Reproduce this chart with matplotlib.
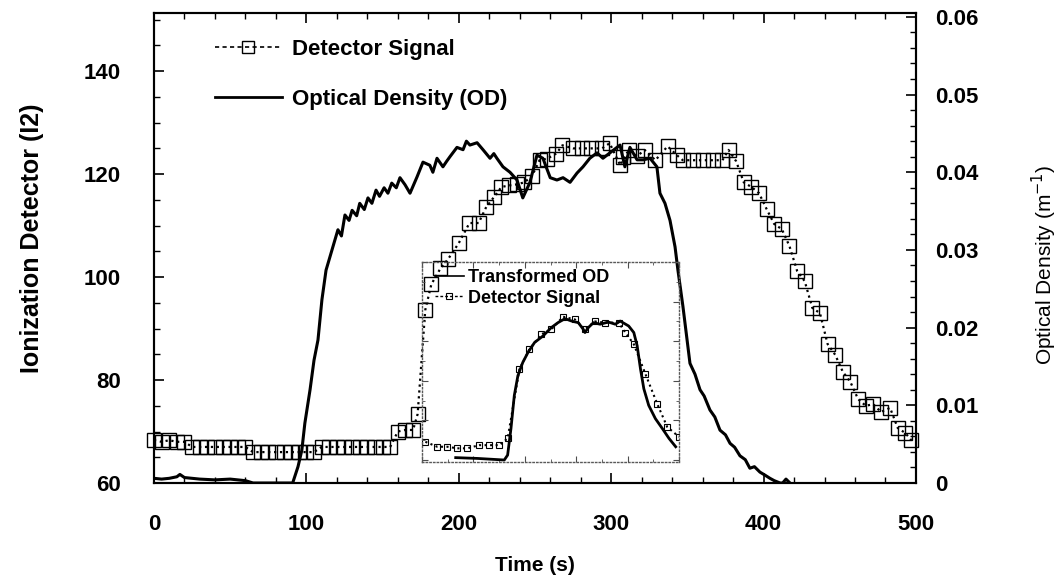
from matplotlib import pyplot as plt
from matplotlib.lines import Line2D
from matplotlib.ticker import MultipleLocator

plt.rcParams['font.family'] = ['Liberation Sans', 'DejaVu Sans']

# detector signal (left axis)
det_t = [0, 5, 10, 15, 20, 25, 30, 35, 40, 45, 50, 55, 60, 65, 70, 75, 80, 85, 90, 95,
         100, 105, 110, 115, 120, 125, 130, 135, 140, 145, 150, 155, 160, 165, 170, 173,
         178, 182, 188, 193, 200, 207, 213, 218, 223, 228, 233, 238, 243, 248, 253, 258,
         264, 268, 275, 281, 287, 294, 299, 306, 308, 312, 317, 322, 329, 337, 343, 347,
         354, 360, 367, 373, 377, 382, 387, 392, 397, 402, 407, 412, 417, 422, 427, 432,
         437, 442, 447, 452, 457, 462, 467, 472, 477, 483, 488, 493, 497]
det_v = [68.3, 68, 68.3, 68, 68, 67, 67, 67, 67, 67, 67, 67, 67, 66, 66, 66, 66, 66, 66, 66,
         66, 66, 67, 67, 67, 67, 67, 67, 67, 67, 67, 67, 70, 70.3, 70.3, 73.4,
         93.6, 98.6, 101.7, 103.5, 106.6, 110.5, 110.5, 113.6, 115.5, 117.5, 117.8, 118, 118.4, 119.6, 122.7, 123,
         124, 125.6, 125, 125, 125, 125, 126, 121.7, 123.3, 124.7, 123.5, 124.7, 122.7, 125.4, 123.7, 122.7,
         122.7, 122.7, 122.7, 122.7, 124.7, 122.5, 118.4, 117.5, 116.3, 113.2, 110.3, 109.3, 106, 101.2, 99.2, 94,
         93, 87, 84.9, 81.6, 79.6, 76.3, 75, 75.3, 73.8, 74.6, 70.7, 69.7, 68.3]

# optical density (right axis)
od_t = [0, 5, 10, 15, 17, 20, 25, 30, 40, 50, 60, 65, 91, 94.5, 97, 99, 102.4, 105, 107.6, 110.2,
        112.9, 116.8, 120.7, 123, 125.3, 128, 130, 133, 135, 138, 140.4, 143, 145.7, 148, 151, 153.5, 156,
        159, 161.4, 164.7, 168, 172.6, 176.5, 181, 183, 185.7, 189.6, 192, 194.2, 198.8, 202.8, 205,
        207.3, 212, 215.9, 220.5, 223, 225, 229, 233.6, 238.2, 242, 246.7, 251.3, 255.2, 260, 264.4,
        268.4, 273, 277.6, 281.5, 286, 290.7, 294.6, 299.2, 303.8, 305.8, 309, 312.3, 317, 321, 325.5,
        330, 332, 335.3, 338.6, 341.9, 343.8, 347.1, 351.7, 355, 358.3, 361, 364.8, 368, 371.4, 375, 378,
        381, 384.5, 388, 391, 394, 397.6, 401, 404.2, 407, 410.8, 412.5, 414.7, 417.3]
od_v = [0.0006, 0.0005, 0.0006, 0.0008, 0.0011, 0.0007, 0.0006, 0.0005, 0.0004, 0.0005, 0.0003, 0.0, 0.0,
        0.0021, 0.0042, 0.0077, 0.012, 0.0158, 0.0184, 0.0236,
        0.0274, 0.030, 0.0326, 0.0318, 0.0345, 0.0338, 0.0351, 0.0344, 0.036, 0.0352, 0.0367, 0.0360,
        0.0377, 0.0369, 0.038, 0.0373, 0.0386,
        0.0380, 0.0393, 0.0384, 0.0373, 0.0394, 0.0413, 0.0409, 0.0400, 0.0418, 0.0407, 0.0414, 0.042,
        0.0432, 0.0429, 0.0440, 0.0435, 0.0438, 0.0429, 0.0418, 0.0424, 0.0418, 0.0407, 0.040, 0.039,
        0.0367, 0.0387, 0.0422, 0.0418, 0.0393, 0.039,
        0.0393, 0.0387, 0.0399, 0.0407, 0.0418, 0.0425, 0.0418, 0.0425, 0.0432, 0.0435, 0.0407, 0.0432,
        0.0416, 0.0416, 0.0418,
        0.0407, 0.0373, 0.036, 0.0338, 0.0304, 0.0274, 0.0227, 0.0154, 0.0140, 0.012, 0.0112, 0.0094,
        0.0085, 0.0068, 0.0062, 0.0051,
        0.0046, 0.0035, 0.0030, 0.0019, 0.0021, 0.0014, 0.0010, 0.0006, 0.0003, 0.0, 0.0, 0.0005, 0.0]

# inset: transformed OD and detector signal (normalised units)
ins_od_x = [0.131, 0.216, 0.320, 0.333, 0.346, 0.359, 0.373, 0.392, 0.412, 0.438, 0.471, 0.503, 0.529,
            0.556, 0.582, 0.608, 0.627, 0.634, 0.647, 0.667, 0.693, 0.725, 0.752, 0.771, 0.804, 0.824,
            0.837, 0.850, 0.863, 0.882, 0.908, 0.935, 0.961, 0.987]
ins_od_y = [0.012, 0.008, 0.0, 0.025, 0.159, 0.326, 0.426, 0.493, 0.543, 0.594, 0.627, 0.669, 0.694,
            0.714, 0.702, 0.694, 0.661, 0.644, 0.669, 0.694, 0.686, 0.697, 0.686, 0.702, 0.677, 0.644,
            0.577, 0.460, 0.360, 0.276, 0.209, 0.159, 0.109, 0.067]
ins_det_x = [0.013, 0.059, 0.098, 0.137, 0.176, 0.222, 0.261, 0.301, 0.333, 0.379, 0.418, 0.464,
             0.503, 0.549, 0.595, 0.634, 0.673, 0.712, 0.765, 0.791, 0.824, 0.869, 0.915, 0.954, 1.0]
ins_det_y = [0.092, 0.067, 0.067, 0.059, 0.059, 0.075, 0.075, 0.075, 0.109, 0.46, 0.56, 0.635,
             0.66, 0.724, 0.71, 0.66, 0.70, 0.694, 0.694, 0.644, 0.585, 0.435, 0.284, 0.167, 0.117]

fig = plt.figure(figsize=(10.62, 5.88), dpi=100)
ax = fig.add_axes([0.145, 0.1786, 0.7175, 0.7993])
ax2 = ax.twinx()

# main curves
ax.plot(det_t, det_v, color="black", linestyle=":", linewidth=1.6,
        marker="s", markersize=10, markerfacecolor="none", markeredgewidth=1.0,
        markeredgecolor="black", clip_on=False, zorder=3)
ax2.plot(od_t, od_v, color="black", linewidth=2.2, zorder=3)

ax.set_xlim(0, 500)
ax.set_ylim(60, 151.3)
ax2.set_ylim(0, 0.0605)

ax.xaxis.set_major_locator(MultipleLocator(100))
ax.xaxis.set_minor_locator(MultipleLocator(20))
ax.yaxis.set_major_locator(MultipleLocator(20))
ax.yaxis.set_minor_locator(MultipleLocator(5))
ax2.yaxis.set_major_locator(MultipleLocator(0.01))
ax2.yaxis.set_minor_locator(MultipleLocator(0.002))
ax2.set_yticks([0, 0.01, 0.02, 0.03, 0.04, 0.05, 0.06])
ax2.set_yticklabels(["0", "0.01", "0.02", "0.03", "0.04", "0.05", "0.06"])

ax.tick_params(axis="x", which="both", direction="in", top=True, pad=22, labelsize=16)
ax.tick_params(axis="y", which="both", direction="in", pad=24, labelsize=16)
ax.tick_params(which="major", length=7, width=1.2)
ax.tick_params(which="minor", length=4, width=1.0)
ax2.tick_params(axis="y", which="both", direction="in", pad=14, labelsize=16)
ax2.tick_params(which="major", length=7, width=1.2)
ax2.tick_params(which="minor", length=4, width=1.0)
for lab in ax.get_xticklabels() + ax.get_yticklabels() + ax2.get_yticklabels():
    lab.set_fontweight("bold")

for a in (ax, ax2):
    for s in a.spines.values():
        s.set_linewidth(1.5)

ax.set_xlabel("Time (s)", fontsize=15, fontweight="bold")
ax.xaxis.set_label_coords(0.5, -0.155)
ax.set_ylabel("Ionization Detector (I2)", fontsize=18, fontweight="bold")
ax.yaxis.set_label_coords(-0.145, 0.52)
ax2.set_ylabel("Optical Density (m$^{-1}$)", fontsize=15)
ax2.yaxis.set_label_coords(1.15, 0.464)

# main legend
h_det = Line2D([], [], color="black", linestyle=(0, (2.5, 2)), linewidth=1.2,
               marker="s", markersize=9, markerfacecolor="none", markeredgewidth=1.0)
h_od = Line2D([], [], color="black", linewidth=2.0)
ax2.legend([h_det, h_od], ["Detector Signal", "Optical Density (OD)"],
           loc="upper left", bbox_to_anchor=(0.2024, 0.9335), bbox_transform=fig.transFigure,
           frameon=False, borderpad=0, borderaxespad=0, handlelength=3.0, handletextpad=0.45,
           labelspacing=1.3, prop={"size": 16, "weight": "bold"})

# inset
axin = fig.add_axes([0.3974, 0.2143, 0.242, 0.340])
axin.patch.set_facecolor("none")
axin.plot(ins_od_x, ins_od_y, color="black", linewidth=2.0)
axin.plot(ins_det_x, ins_det_y, color="black", linestyle=":", linewidth=1.5,
          marker="s", markersize=5, markerfacecolor="none", markeredgewidth=0.8)
axin.set_xlim(0, 1.0)
axin.set_ylim(-0.01, 1.0)
axin.xaxis.set_major_locator(MultipleLocator(0.2))
axin.xaxis.set_minor_locator(MultipleLocator(0.1))
axin.yaxis.set_major_locator(MultipleLocator(0.2))
axin.yaxis.set_minor_locator(MultipleLocator(0.1))
axin.tick_params(which="both", direction="in", top=True, right=True,
                 labelbottom=False, labelleft=False)
axin.tick_params(which="major", length=4, width=0.8, color="0.3")
axin.tick_params(which="minor", length=2, width=0.6, color="0.3")
for s in axin.spines.values():
    s.set_linestyle(":")
    s.set_linewidth(1.0)
    s.set_color("0.35")

hi_od = Line2D([], [], color="black", linewidth=1.2)
hi_det = Line2D([], [], color="black", linestyle=(0, (2, 1.5)), linewidth=1.0,
                marker="s", markersize=5, markerfacecolor="none", markeredgewidth=0.8)
axin.legend([hi_od, hi_det], ["Transformed OD", "Detector Signal"],
            loc="upper left", bbox_to_anchor=(0.4096, 0.5425), bbox_transform=fig.transFigure,
            frameon=False, borderpad=0, borderaxespad=0, handlelength=1.6, handletextpad=0.25,
            labelspacing=0.2, prop={"size": 13, "weight": "bold"})

plt.savefig("out.png", dpi=100)
